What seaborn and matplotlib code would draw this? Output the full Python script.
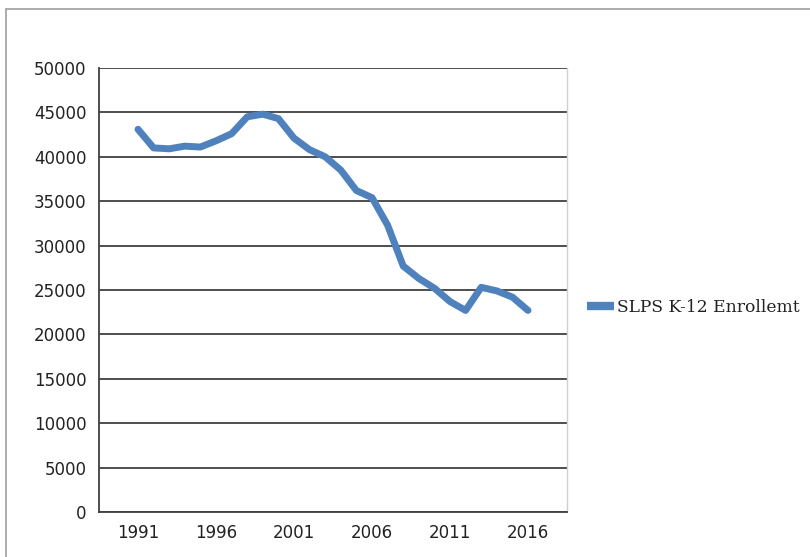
import pandas as pd
import matplotlib.pyplot as plt
import seaborn as sns
from matplotlib.lines import Line2D

years = list(range(1991, 2017))
enrollment = [43100, 41000, 40900, 41200, 41100, 41800, 42600, 44500, 44800, 44300,
              42100, 40800, 40000, 38500, 36200, 35400, 32300, 27700, 26300, 25200,
              23700, 22700, 25300, 24900, 24200, 22700]
series_name = "SLPS K-12 Enrollemt"
tick_years = [1991, 1996, 2001, 2006, 2011, 2016]

df = pd.DataFrame({"year": years, "enrollment": enrollment})

sns.set_style("white")
plt.rcParams['font.family'] = ['DejaVu Sans']

fig = plt.figure(figsize=(8.1, 5.57), dpi=100)
# outer chart frame (light gray)
fig.add_artist(Line2D([6/810, 6/810], [0, 1 - 9/557], color="#a0a0a0", lw=1.2))
fig.add_artist(Line2D([6/810, 1], [1 - 9/557, 1 - 9/557], color="#a0a0a0", lw=1.2))

ax = fig.add_axes([99/810, 1 - 512/557, (567 - 99)/810, (512 - 68)/557])
sns.lineplot(data=df, x="year", y="enrollment", color="#4F81BD", linewidth=5,
             ax=ax, label=series_name)

ax.set_ylim(0, 50000)
ax.set_xlim(1988.5, 2018.5)
ax.set_yticks(range(0, 50001, 5000))
ax.set_yticklabels([str(v) for v in range(0, 50001, 5000)], fontsize=12, color="#222222")
ax.yaxis.grid(True, color="#404040", linewidth=1.3)
ax.set_axisbelow(True)

# category-style x axis: ticks between groups, labels centred
ax.set_xticks([1988.5 + 5 * i for i in range(7)])
ax.set_xticklabels([])
ax.set_xticks(tick_years, minor=True)
ax.set_xticklabels([str(y) for y in tick_years], minor=True, fontsize=12, color="#222222")
ax.tick_params(axis="x", which="major", direction="out", length=6, width=1.3, color="#404040")
ax.tick_params(axis="x", which="minor", length=0, pad=9)
ax.tick_params(axis="y", direction="out", length=6, width=1.3, color="#404040", pad=3)

ax.set_xlabel("")
ax.set_ylabel("")
for side in ["left", "bottom"]:
    ax.spines[side].set_color("#404040")
    ax.spines[side].set_linewidth(1.3)
ax.spines["top"].set_visible(False)
ax.spines["right"].set_color("#d0d0d0")
ax.spines["right"].set_linewidth(1)

leg = ax.legend(loc="center left", bbox_to_anchor=(1.01, 0.46), frameon=False,
                handlelength=1.6, handletextpad=0.15,
                prop={"family": "DejaVu Serif", "size": 12.3})
for t in leg.get_texts():
    t.set_color("#222222")
leg.get_lines()[0].set_linewidth(6)
leg.get_lines()[0].set_solid_capstyle("butt")

fig.savefig("out.png", dpi=100)
